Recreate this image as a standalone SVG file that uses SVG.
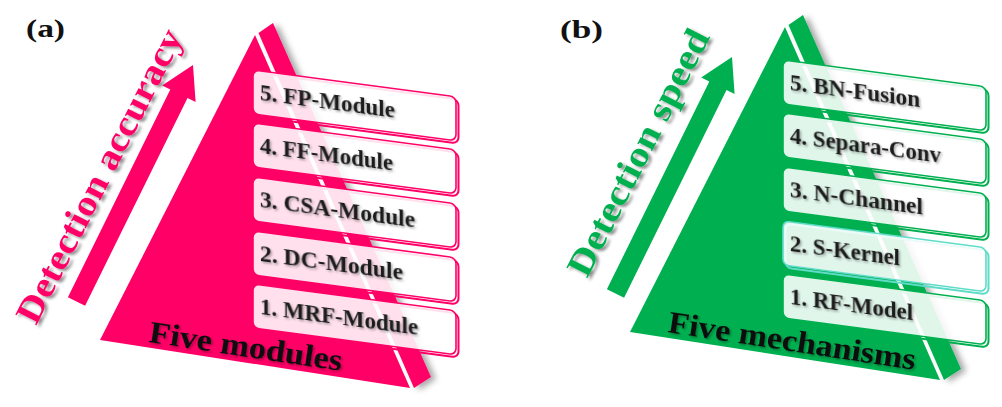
<svg xmlns="http://www.w3.org/2000/svg" width="1002" height="407" viewBox="0 0 1002 407">
<defs>
<filter id="shBig" x="-20%" y="-20%" width="140%" height="140%">
<feDropShadow dx="3" dy="2" stdDeviation="1.6" flood-color="#000" flood-opacity="0.45"/>
</filter>
<filter id="shTxt" x="-10%" y="-30%" width="120%" height="160%">
<feDropShadow dx="1.5" dy="1.5" stdDeviation="1" flood-color="#000" flood-opacity="0.35"/>
</filter>
<filter id="shStrip" x="-20%" y="-10%" width="150%" height="130%">
<feDropShadow dx="5" dy="2" stdDeviation="3" flood-color="#000" flood-opacity="0.35"/>
</filter>
</defs>
<style>
.lbl{font-family:"Liberation Serif","Times New Roman",serif;font-weight:bold;font-size:26px;fill:#111}
.big{font-family:"Liberation Serif","Times New Roman",serif;font-weight:bold;font-size:36px}
.base{font-family:"Liberation Serif","Times New Roman",serif;font-weight:bold;font-size:31px;fill:#111}
.bt{font-family:"Liberation Serif","Times New Roman",serif;font-weight:bold;font-size:23px;fill:#1e1e1e}
.pk{fill:#ff0066}
.gn{fill:#00b050}
.bk{fill:none;stroke-width:2}
.fr{fill:#ffffff;fill-opacity:0.88;stroke-width:1.6}
.bp .bk,.bp .fr{stroke:#ff0066}
.bg .bk,.bg .fr{stroke:#00b050}
.bg .teal{stroke:#5fdcc8}
</style>
<rect width="1002" height="407" fill="#ffffff"/>

<!-- Panel (a) -->
<g id="label-a"><text class="lbl" x="26" y="37" textLength="39" lengthAdjust="spacingAndGlyphs">(a)</text></g>
<g id="pyramid-a">
<polygon class="pk" points="258.5,33 273,23 431,377 414,388" filter="url(#shStrip)"/>
<polygon class="pk" points="255,35 100,340 410,388"/>
</g>
<g id="arrow-a"><polygon class="pk" points="67.9,297.3 170.3,89.5 162.2,85.5 193,65 195.6,101.9 187.5,97.9 85.1,305.7"/></g>
<g id="title-a" filter="url(#shBig)"><text class="big pk" transform="translate(36,326) rotate(-63)" textLength="325" lengthAdjust="spacingAndGlyphs">Detection accuracy</text></g>
<g id="base-a" filter="url(#shTxt)"><text class="base" transform="translate(148,342) rotate(8.5)" textLength="195" lengthAdjust="spacingAndGlyphs">Five modules</text></g>

<g class="bp">
<g id="a5" transform="translate(253,70) skewY(7.5)"><rect class="bk" x="2.5" y="2.5" width="203" height="44" rx="6"/><rect class="fr" x="0" y="0" width="203" height="44" rx="6"/><text class="bt" x="7" y="29" textLength="135" lengthAdjust="spacingAndGlyphs" filter="url(#shTxt)">5. FP-Module</text></g>
<g id="a4" transform="translate(253,123) skewY(7.5)"><rect class="bk" x="2.5" y="2.5" width="203" height="44" rx="6"/><rect class="fr" x="0" y="0" width="203" height="44" rx="6"/><text class="bt" x="7" y="29" textLength="133" lengthAdjust="spacingAndGlyphs" filter="url(#shTxt)">4. FF-Module</text></g>
<g id="a3" transform="translate(253,177) skewY(7.5)"><rect class="bk" x="2.5" y="2.5" width="203" height="44" rx="6"/><rect class="fr" x="0" y="0" width="203" height="44" rx="6"/><text class="bt" x="7" y="29" textLength="155" lengthAdjust="spacingAndGlyphs" filter="url(#shTxt)">3. CSA-Module</text></g>
<g id="a2" transform="translate(253,231) skewY(7.5)"><rect class="bk" x="2.5" y="2.5" width="203" height="44" rx="6"/><rect class="fr" x="0" y="0" width="203" height="44" rx="6"/><text class="bt" x="7" y="29" textLength="143" lengthAdjust="spacingAndGlyphs" filter="url(#shTxt)">2. DC-Module</text></g>
<g id="a1" transform="translate(253,284) skewY(7.5)"><rect class="bk" x="2.5" y="2.5" width="203" height="44" rx="6"/><rect class="fr" x="0" y="0" width="203" height="44" rx="6"/><text class="bt" x="7" y="29" textLength="158" lengthAdjust="spacingAndGlyphs" filter="url(#shTxt)">1. MRF-Module</text></g>
</g>

<!-- Panel (b) -->
<g id="label-b"><text class="lbl" x="560" y="38" textLength="43" lengthAdjust="spacingAndGlyphs">(b)</text></g>
<g id="pyramid-b" transform="translate(530,-8)">
<polygon class="gn" points="258.5,33 273,23 431,377 414,388" filter="url(#shStrip)"/>
<polygon class="gn" points="255,35 100,340 410,388"/>
</g>
<g id="arrow-b" transform="translate(539,-8)"><polygon class="gn" points="67.9,297.3 170.3,89.5 162.2,85.5 193,65 195.6,101.9 187.5,97.9 85.1,305.7"/></g>
<g id="title-b" filter="url(#shBig)"><text class="big gn" transform="translate(587,279) rotate(-63)" textLength="272" lengthAdjust="spacingAndGlyphs">Detection speed</text></g>
<g id="base-b" filter="url(#shTxt)"><text class="base" transform="translate(667,332) rotate(8.7)" textLength="250" lengthAdjust="spacingAndGlyphs">Five mechanisms</text></g>

<g class="bg">
<g id="b5" transform="translate(783,60) skewY(7.5)"><rect class="bk" x="2.5" y="2.5" width="203" height="44" rx="6"/><rect class="fr" x="0" y="0" width="203" height="44" rx="6"/><text class="bt" x="7" y="29" textLength="130" lengthAdjust="spacingAndGlyphs" filter="url(#shTxt)">5. BN-Fusion</text></g>
<g id="b4" transform="translate(783,113) skewY(7.5)"><rect class="bk" x="2.5" y="2.5" width="203" height="44" rx="6"/><rect class="fr" x="0" y="0" width="203" height="44" rx="6"/><text class="bt" x="7" y="29" textLength="151" lengthAdjust="spacingAndGlyphs" filter="url(#shTxt)">4. Separa-Conv</text></g>
<g id="b3" transform="translate(783,167) skewY(7.5)"><rect class="bk" x="2.5" y="2.5" width="203" height="44" rx="6"/><rect class="fr" x="0" y="0" width="203" height="44" rx="6"/><text class="bt" x="7" y="29" textLength="133" lengthAdjust="spacingAndGlyphs" filter="url(#shTxt)">3. N-Channel</text></g>
<g id="b2" transform="translate(783,221) skewY(7.5)"><rect class="bk teal" x="2.5" y="2.5" width="203" height="44" rx="6"/><rect class="fr teal" x="0" y="0" width="203" height="44" rx="6"/><text class="bt" x="7" y="29" textLength="110" lengthAdjust="spacingAndGlyphs" filter="url(#shTxt)">2. S-Kernel</text></g>
<g id="b1" transform="translate(783,274) skewY(7.5)"><rect class="bk" x="2.5" y="2.5" width="203" height="44" rx="6"/><rect class="fr" x="0" y="0" width="203" height="44" rx="6"/><text class="bt" x="7" y="29" textLength="123" lengthAdjust="spacingAndGlyphs" filter="url(#shTxt)">1. RF-Model</text></g>
</g>
<g id="connectors"/>
</svg>
